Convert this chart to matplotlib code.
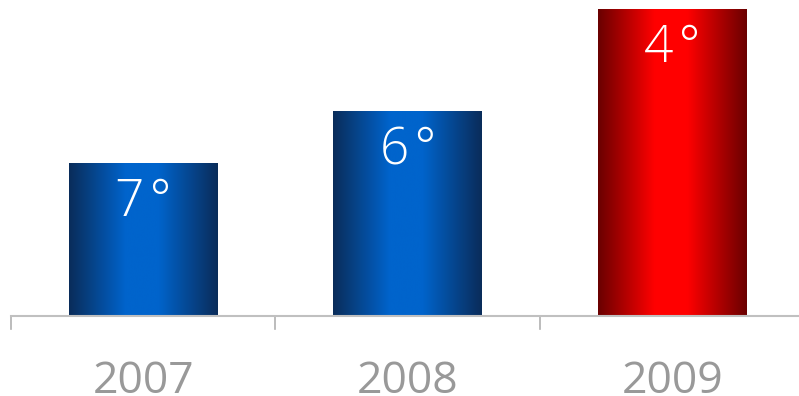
import numpy as np
import matplotlib
matplotlib.use("Agg")
import matplotlib.pyplot as plt
from matplotlib.colors import LinearSegmentedColormap
from matplotlib.patches import Rectangle
from matplotlib.transforms import blended_transform_factory

years = ["2007", "2008", "2009"]
values = [15, 20, 30]
rank_labels = ["7\u200a°", "6\u200a°", "4\u200a°"]
bar_colors = ["blue", "blue", "red"]

W, H = 799, 396
fig = plt.figure(figsize=(W / 100, H / 100), dpi=100)
ax = fig.add_axes([11 / W, 80 / H, 793.5 / W, 316 / H])
ymax = 30 * 316 / 307
ax.set_xlim(-0.5, 2.5)
ax.set_ylim(0, ymax)
ax.axis("off")

cmaps = {
    "blue": LinearSegmentedColormap.from_list(
        "blue_cyl", [(0.0, "#0a2c5a"), (0.38, "#0064cc"), (0.6, "#0064cc"), (1.0, "#0a2c5a")]),
    "red": LinearSegmentedColormap.from_list(
        "red_cyl", [(0.0, "#6a0000"), (0.38, "#ff0000"), (0.6, "#ff0000"), (1.0, "#6a0000")]),
}

bar_w = 0.563
grad = np.linspace(0, 1, 256).reshape(1, -1)
for i, (v, c) in enumerate(zip(values, bar_colors)):
    x0 = i - bar_w / 2
    rect = Rectangle((x0, 0), bar_w, v, facecolor="none", edgecolor="none")
    ax.add_patch(rect)
    im = ax.imshow(grad, cmap=cmaps[c], extent=(x0, x0 + bar_w, 0, v),
                   aspect="auto", interpolation="bicubic", zorder=2)
    im.set_clip_path(rect)

# baseline and category separators
ax.plot([-0.5, 2.5], [0, 0], color="#c0c0c0", lw=1.5, zorder=3, clip_on=False)
ytr = blended_transform_factory(ax.transData, fig.transFigure)
for b in [-0.5, 0.5, 1.5]:
    ax.plot([b, b], [80 / H, 67 / H], color="#b0b0b0", lw=1.2,
            transform=ytr, clip_on=False)

font = ["Open Sans", "DejaVu Sans"]
for i, (v, lab) in enumerate(zip(values, rank_labels)):
    ax.text(i, v - ymax * 14 / 316, lab, ha="center", va="top",
            color="white", fontsize=37, family=font, weight="light", zorder=4)

for i, y in enumerate(years):
    ax.text(i, 3 / H, y, ha="center", va="baseline", color="#999999",
            fontsize=32, family=font, transform=ytr)

fig.savefig("out.png", dpi=100)
